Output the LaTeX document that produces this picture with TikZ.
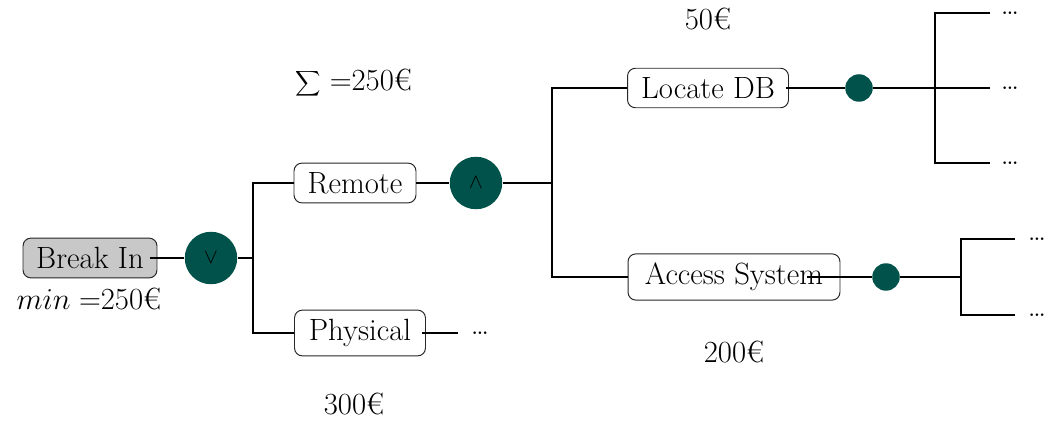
\documentclass[tikz,border=0pt]{standalone}
\usepackage{fontspec}
\definecolor{gatecol}{RGB}{0,82,74}
\definecolor{boxgray}{RGB}{200,200,200}
\begin{document}
\begin{tikzpicture}[x=0.02cm,y=-0.02cm,
  every node/.style={font=\fontsize{17.5}{21}\selectfont},
  box/.style={draw=black!85, rounded corners=4.5pt, line width=0.55pt, inner xsep=0pt, inner ysep=5.2pt, fill=white},
  gate/.style={circle, fill=gatecol, minimum size=1.05cm, inner sep=0pt, font=\fontsize{12}{14}\selectfont},
  leaf/.style={circle, fill=gatecol, minimum size=0.55cm, inner sep=0pt},
  conn/.style={line width=0.6pt, draw=black},
  dots/.style={font=\fontsize{9.5}{10}\selectfont\bfseries, inner sep=0pt, anchor=base},
  lbl/.style={inner sep=0pt, anchor=base}]
\useasboundingbox (0,0) rectangle (1045,425);

% nodes
\node[box, fill=boxgray, minimum width=2.68cm] (bi) at (90,258) {Break In};
\node[gate] (or) at (211,258) {$\vee$};
\node[box, minimum width=2.44cm] (re) at (355,183) {Remote};
\node[box, minimum width=2.62cm] (ph) at (360,333) {Physical};
\node[gate] (and) at (476,183) {$\wedge$};
\node[box, minimum width=3.22cm] (lo) at (708,88) {Locate DB};
\node[box, minimum width=4.24cm] (ac) at (734,277) {Access System};
\node[leaf] (lc) at (859,88) {};
\node[leaf] (acc) at (886,277) {};

% labels
\node[lbl] (minl) at (89,310) {$min =$250€};
\node[lbl] (suml) at (354,91) {$\displaystyle\sum =$250€};
\node[lbl] (p300) at (354,415) {300€};
\node[lbl] (p50) at (708,30) {50€};
\node[lbl] (p200) at (734,363) {200€};

% junction coordinates
\coordinate (j1) at (253,258);
\coordinate (j2) at (552,183);
\coordinate (j3) at (935,88);
\coordinate (j4) at (961,277);
\coordinate (l1) at (990,13);
\coordinate (l2) at (990,88);
\coordinate (l3) at (990,163);
\coordinate (m1) at (1015,239);
\coordinate (m2) at (1015,315);
\coordinate (pe) at (458,333);

% dots
\node[dots] (d1) at (1010,15) {...};
\node[dots] (d2) at (1010,90) {...};
\node[dots] (d3) at (1010,165) {...};
\node[dots] (d4) at (1037,241) {...};
\node[dots] (d5) at (1037,317) {...};
\node[dots] (d6) at (480,335) {...};

% connectors
\draw[conn] ([xshift=-0.14cm]bi.east) -- (or.west);
\draw[conn] (or.east) -- (j1);
\draw[conn] (re.west) -| (j1) |- (ph.west);
\draw[conn] (re.east) -- (and.west);
\draw[conn] (and.east) -- (j2);
\draw[conn] (lo.west) -| (j2) |- (ac.west);
\draw[conn] ([xshift=-0.08cm]ph.east) -- (pe);
\draw[conn] ([xshift=-0.06cm]lo.east) -- (lc.west);
\draw[conn] (lc.east) -- (j3);
\draw[conn] (l1) -| (j3) |- (l3);
\draw[conn] (j3) -- (l2);
\draw[conn] ([xshift=-0.66cm]ac.east) -- (acc.west);
\draw[conn] (acc.east) -- (j4);
\draw[conn] (m1) -| (j4) |- (m2);
\end{tikzpicture}
\end{document}
